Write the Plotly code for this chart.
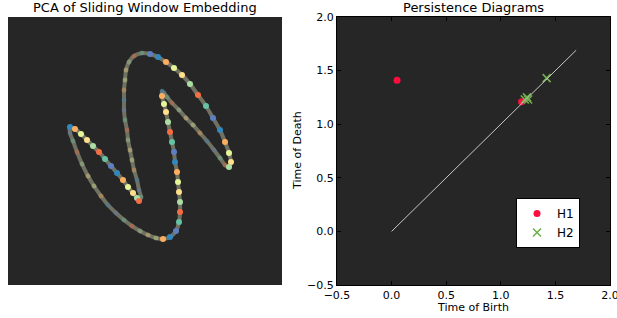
import plotly.graph_objects as go

# ---- Left panel: PCA projection of the sliding-window point cloud
pc1 = [-0.75, -0.70, -0.64, -0.58, -0.52, -0.46, -0.40, -0.34, -0.28, -0.22, -0.17, -0.12, -0.08, -0.06,
       -0.04, -0.06, -0.08, -0.11, -0.13, -0.15, -0.17, -0.18, -0.20, -0.21, -0.21, -0.21, -0.20, -0.19, -0.16, -0.11, -0.03,
       0.05, 0.13, 0.21, 0.29, 0.37, 0.45, 0.53, 0.61, 0.68, 0.75, 0.80, 0.84, 0.86, 0.84,
       0.80, 0.75, 0.69, 0.62, 0.55, 0.48, 0.41, 0.34, 0.27, 0.22, 0.19, 0.17,
       0.17, 0.19, 0.21, 0.23, 0.25, 0.27, 0.29, 0.30, 0.32, 0.33, 0.34, 0.35, 0.35, 0.34, 0.31, 0.25, 0.18,
       0.11, 0.03, -0.05, -0.13, -0.21, -0.29, -0.37, -0.44, -0.51, -0.57, -0.63, -0.68, -0.72, -0.75, -0.75]
pc2 = [0.24, 0.22, 0.17, 0.11, 0.05, -0.01, -0.08, -0.15, -0.22, -0.29, -0.36, -0.42, -0.47, -0.50,
       -0.46, -0.39, -0.29, -0.19, -0.09, 0.01, 0.11, 0.21, 0.31, 0.41, 0.51, 0.61, 0.71, 0.81, 0.89, 0.95, 0.98,
       0.97, 0.94, 0.89, 0.83, 0.76, 0.67, 0.56, 0.45, 0.33, 0.21, 0.09, -0.02, -0.11, -0.16,
       -0.14, -0.07, 0.01, 0.10, 0.18, 0.26, 0.33, 0.41, 0.48, 0.54, 0.58, 0.60,
       0.55, 0.47, 0.39, 0.29, 0.19, 0.09, -0.01, -0.11, -0.21, -0.31, -0.41, -0.51, -0.61, -0.71, -0.80, -0.86, -0.88,
       -0.87, -0.84, -0.80, -0.75, -0.69, -0.62, -0.54, -0.45, -0.35, -0.25, -0.13, -0.01, 0.10, 0.18, 0.24]

# ---- Right panel: persistence diagrams (birth, death)
h1_birth = [0.05, 1.19]
h1_death = [1.41, 1.21]
h2_birth = [1.22, 1.24, 1.25, 1.42]
h2_death = [1.23, 1.25, 1.23, 1.43]
diag = [0.0, 1.69]

ticks = [-0.5, 0.0, 0.5, 1.0, 1.5, 2.0]

W, H = 617, 318
def px(x):
    return x / W
def py(y):
    return 1 - y / H

palette = ["#3288bd", "#fee08b", "#66c2a5", "#fdae61", "#abdda4", "#5e7fc0", "#e6f598", "#f46d43"]
n = len(pc1)
bright_ranges = [(0, 14), (31, 45), (57, 74)]
bright = [any(a <= i < b for a, b in bright_ranges) for i in range(n)]
colors = [palette[(i * 3) % len(palette)] for i in range(n)]

fig = go.Figure()

# curve stroke
fig.add_trace(go.Scatter(x=pc1, y=pc2, mode="lines", xaxis="x", yaxis="y",
                         line=dict(color="rgba(122,122,104,0.9)", width=4, shape="spline", smoothing=0.6),
                         showlegend=False, hoverinfo="skip"))
# dim (far) points
idx_d = [i for i in range(n) if not bright[i]]
fig.add_trace(go.Scatter(x=[pc1[i] for i in idx_d], y=[pc2[i] for i in idx_d], mode="markers",
                         xaxis="x", yaxis="y", showlegend=False,
                         marker=dict(size=5, color=[colors[i] for i in idx_d], opacity=0.35,
                                     line=dict(width=0))))
# bright (near) points
idx_b = [i for i in range(n) if bright[i]]
fig.add_trace(go.Scatter(x=[pc1[i] for i in idx_b], y=[pc2[i] for i in idx_b], mode="markers",
                         xaxis="x", yaxis="y", showlegend=False,
                         marker=dict(size=6, color=[colors[i] for i in idx_b], opacity=1.0,
                                     line=dict(width=0))))

# persistence diagrams
fig.add_trace(go.Scatter(x=h1_birth, y=h1_death, mode="markers", name="H1", xaxis="x2", yaxis="y2",
                         marker=dict(size=7, color="#ff0d3c", line=dict(width=0))))
fig.add_trace(go.Scatter(x=h2_birth, y=h2_death, mode="markers", name="H2", xaxis="x2", yaxis="y2",
                         marker=dict(size=8, symbol="x-thin", color="#72b04a",
                                     line=dict(width=1.6, color="#72b04a"))))
fig.add_trace(go.Scatter(x=diag, y=diag, mode="lines", xaxis="x2", yaxis="y2", showlegend=False,
                         line=dict(color="#c8c8c8", width=1)))

font = "DejaVu Sans, Verdana, sans-serif"
axis_common = dict(range=[-0.5, 2.0], tickvals=ticks, tickformat=".1f", ticks="inside", ticklen=4,
                   tickcolor="black", showline=True, linecolor="black", linewidth=1, mirror="ticks",
                   showgrid=False, zeroline=False, ticklabeloverflow="allow",
                   tickfont=dict(family=font, size=11, color="black"))

fig.update_layout(
    width=W, height=H, margin=dict(l=0, r=0, t=0, b=0),
    template="none", paper_bgcolor="white", plot_bgcolor="#262626",
    xaxis=dict(domain=[px(8), px(282)], range=[-1.37, 1.37], visible=False, fixedrange=True),
    yaxis=dict(domain=[py(285), py(17)], range=[-1.34, 1.34], visible=False, fixedrange=True),
    xaxis2=dict(domain=[px(337), px(610)], anchor="y2", **axis_common),
    yaxis2=dict(domain=[py(285), py(17)], anchor="x2", **axis_common),
    legend=dict(x=px(516), y=py(198), xanchor="left", yanchor="top", bgcolor="white",
                bordercolor="black", borderwidth=1, font=dict(family=font, size=12, color="black"),
                itemwidth=30, tracegroupgap=0),
    annotations=[
        dict(text="PCA of Sliding Window Embedding", x=px(145), y=py(8), xref="paper", yref="paper",
             showarrow=False, font=dict(family=font, size=13, color="black"), xanchor="center", yanchor="middle"),
        dict(text="Persistence Diagrams", x=px(473), y=py(8), xref="paper", yref="paper",
             showarrow=False, font=dict(family=font, size=13, color="black"), xanchor="center", yanchor="middle"),
        dict(text="Time of Birth", x=px(473), y=py(307), xref="paper", yref="paper",
             showarrow=False, font=dict(family=font, size=11, color="black"), xanchor="center", yanchor="middle"),
        dict(text="Time of Death", x=px(297), y=py(151), xref="paper", yref="paper", textangle=-90,
             showarrow=False, font=dict(family=font, size=11, color="black"), xanchor="center", yanchor="middle"),
    ],
)

fig.write_html("out.html", config={"displayModeBar": False},
               post_script="document.body.style.margin='0px';")
